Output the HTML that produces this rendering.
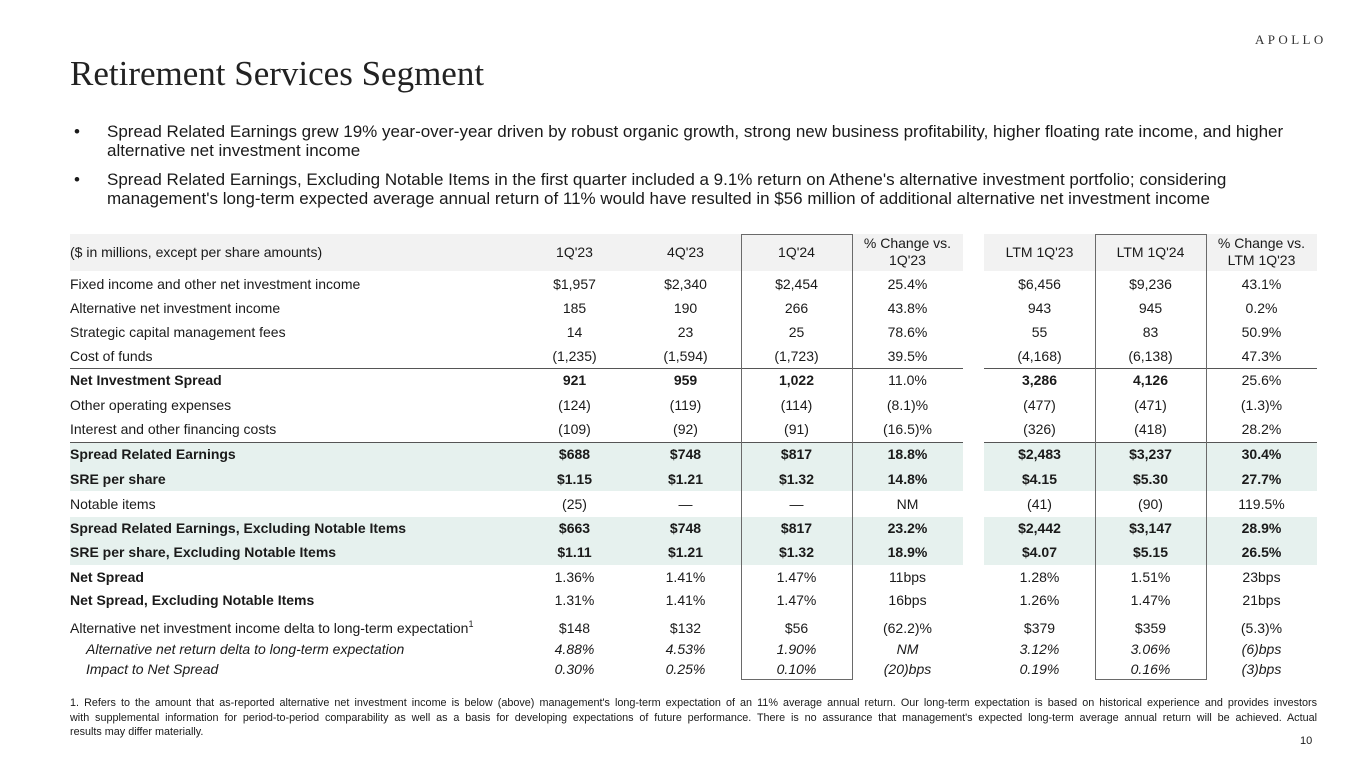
<!DOCTYPE html>
<html><head><meta charset="utf-8">
<style>
*{margin:0;padding:0;box-sizing:border-box}
body{width:1365px;height:768px;background:#fff;position:relative;overflow:hidden;font-family:"Liberation Sans",Arial,sans-serif;color:#1a1a1a}
.abs{position:absolute}
.title{position:absolute;left:70px;top:56px;font-family:"Liberation Serif",serif;font-size:35px;line-height:35px;color:#222;white-space:nowrap}
.logo{position:absolute;left:1255px;top:32px;font-family:"Liberation Serif",serif;font-size:13px;letter-spacing:3.4px;color:#333;line-height:16px}
.bul{position:absolute;left:0;font-size:17px;line-height:19px;white-space:nowrap}
.bul .d{position:absolute;left:74px}
.bul .t{position:absolute;left:107px}
.bg{position:absolute;background:#f2f2f2}
.gr{position:absolute;background:#e6f1ee}
.rule{position:absolute;height:1px;background:#555}
.box{position:absolute;border:1px solid #6a6a6a;top:234px;height:446px;width:112px}
.r{position:absolute;left:0;width:1365px;height:24px;line-height:24px;font-size:14px;white-space:nowrap}
.r span{position:absolute;top:0;width:111px;text-align:center}
.r .l{left:70px;width:450px;text-align:left}
.r .li{left:86px;width:450px;text-align:left;font-style:italic}
.a{left:519px}.b{left:630px}.c{left:741px}.d{left:852px}.e{left:984px}.f{left:1095px}.g{left:1206px}
.bo{font-weight:bold}
.it span{font-style:italic}
.h2{position:absolute;width:111px;text-align:center;font-size:14px;line-height:17px;top:235px}
sup{font-size:9px;line-height:0;vertical-align:6px}
.fn{position:absolute;left:70px;width:1247px;font-size:10.8px;line-height:14.5px;white-space:nowrap}
.fn.j{text-align:justify;text-align-last:justify;white-space:normal}
</style></head><body>

<div class="logo">APOLLO</div>
<div class="title">Retirement Services Segment</div>

<div class="bul" style="top:122px"><span class="d">•</span><span class="t">Spread Related Earnings grew 19% year-over-year driven by robust organic growth, strong new business profitability, higher floating rate income, and higher</span></div>
<div class="bul" style="top:141px"><span class="t">alternative net investment income</span></div>
<div class="bul" style="top:170px"><span class="d">•</span><span class="t">Spread Related Earnings, Excluding Notable Items in the first quarter included a 9.1% return on Athene's alternative investment portfolio; considering</span></div>
<div class="bul" style="top:189px"><span class="t">management's long-term expected average annual return of 11% would have resulted in $56 million of additional alternative net investment income</span></div>

<!-- backgrounds -->
<div class="bg" style="left:70px;top:234px;width:893px;height:37px"></div>
<div class="bg" style="left:984px;top:234px;width:333px;height:37px"></div>
<div class="gr" style="left:70px;top:442px;width:893px;height:49px"></div>
<div class="gr" style="left:984px;top:442px;width:333px;height:49px"></div>
<div class="gr" style="left:70px;top:517px;width:893px;height:48px"></div>
<div class="gr" style="left:984px;top:517px;width:333px;height:48px"></div>
<div class="rule" style="left:70px;top:368px;width:893px"></div>
<div class="rule" style="left:984px;top:368px;width:333px"></div>
<div class="rule" style="left:70px;top:442px;width:893px"></div>
<div class="rule" style="left:984px;top:442px;width:333px"></div>
<div class="box" style="left:741px"></div>
<div class="box" style="left:1095px"></div>

<!-- header -->
<div class="r" style="top:240px"><span class="l">($ in millions, except per share amounts)</span><span class="a">1Q'23</span><span class="b">4Q'23</span><span class="c">1Q'24</span><span class="e">LTM 1Q'23</span><span class="f">LTM 1Q'24</span></div>
<div class="h2" style="left:852px">% Change vs.<br>1Q'23</div>
<div class="h2" style="left:1206px">% Change vs.<br>LTM 1Q'23</div>

<div class="r" style="top:272px"><span class="l">Fixed income and other net investment income</span><span class="a">$1,957</span><span class="b">$2,340</span><span class="c">$2,454</span><span class="d">25.4%</span><span class="e">$6,456</span><span class="f">$9,236</span><span class="g">43.1%</span></div>
<div class="r" style="top:296px"><span class="l">Alternative net investment income</span><span class="a">185</span><span class="b">190</span><span class="c">266</span><span class="d">43.8%</span><span class="e">943</span><span class="f">945</span><span class="g">0.2%</span></div>
<div class="r" style="top:320px"><span class="l">Strategic capital management fees</span><span class="a">14</span><span class="b">23</span><span class="c">25</span><span class="d">78.6%</span><span class="e">55</span><span class="f">83</span><span class="g">50.9%</span></div>
<div class="r" style="top:344px"><span class="l">Cost of funds</span><span class="a">(1,235)</span><span class="b">(1,594)</span><span class="c">(1,723)</span><span class="d">39.5%</span><span class="e">(4,168)</span><span class="f">(6,138)</span><span class="g">47.3%</span></div>
<div class="r" style="top:368px"><span class="l bo">Net Investment Spread</span><span class="a bo">921</span><span class="b bo">959</span><span class="c bo">1,022</span><span class="d">11.0%</span><span class="e bo">3,286</span><span class="f bo">4,126</span><span class="g">25.6%</span></div>
<div class="r" style="top:393px"><span class="l">Other operating expenses</span><span class="a">(124)</span><span class="b">(119)</span><span class="c">(114)</span><span class="d">(8.1)%</span><span class="e">(477)</span><span class="f">(471)</span><span class="g">(1.3)%</span></div>
<div class="r" style="top:417px"><span class="l">Interest and other financing costs</span><span class="a">(109)</span><span class="b">(92)</span><span class="c">(91)</span><span class="d">(16.5)%</span><span class="e">(326)</span><span class="f">(418)</span><span class="g">28.2%</span></div>
<div class="r bo" style="top:442px"><span class="l">Spread Related Earnings</span><span class="a">$688</span><span class="b">$748</span><span class="c">$817</span><span class="d">18.8%</span><span class="e">$2,483</span><span class="f">$3,237</span><span class="g">30.4%</span></div>
<div class="r bo" style="top:467px"><span class="l">SRE per share</span><span class="a">$1.15</span><span class="b">$1.21</span><span class="c">$1.32</span><span class="d">14.8%</span><span class="e">$4.15</span><span class="f">$5.30</span><span class="g">27.7%</span></div>
<div class="r" style="top:492px"><span class="l">Notable items</span><span class="a">(25)</span><span class="b">—</span><span class="c">—</span><span class="d">NM</span><span class="e">(41)</span><span class="f">(90)</span><span class="g">119.5%</span></div>
<div class="r bo" style="top:516px"><span class="l">Spread Related Earnings, Excluding Notable Items</span><span class="a">$663</span><span class="b">$748</span><span class="c">$817</span><span class="d">23.2%</span><span class="e">$2,442</span><span class="f">$3,147</span><span class="g">28.9%</span></div>
<div class="r bo" style="top:540px"><span class="l">SRE per share, Excluding Notable Items</span><span class="a">$1.11</span><span class="b">$1.21</span><span class="c">$1.32</span><span class="d">18.9%</span><span class="e">$4.07</span><span class="f">$5.15</span><span class="g">26.5%</span></div>
<div class="r" style="top:565px"><span class="l bo">Net Spread</span><span class="a">1.36%</span><span class="b">1.41%</span><span class="c">1.47%</span><span class="d">11bps</span><span class="e">1.28%</span><span class="f">1.51%</span><span class="g">23bps</span></div>
<div class="r" style="top:588px"><span class="l bo">Net Spread, Excluding Notable Items</span><span class="a">1.31%</span><span class="b">1.41%</span><span class="c">1.47%</span><span class="d">16bps</span><span class="e">1.26%</span><span class="f">1.47%</span><span class="g">21bps</span></div>
<div class="r" style="top:616px"><span class="l">Alternative net investment income delta to long-term expectation<sup>1</sup></span><span class="a">$148</span><span class="b">$132</span><span class="c">$56</span><span class="d">(62.2)%</span><span class="e">$379</span><span class="f">$359</span><span class="g">(5.3)%</span></div>
<div class="r it" style="top:637px"><span class="li">Alternative net return delta to long-term expectation</span><span class="a">4.88%</span><span class="b">4.53%</span><span class="c">1.90%</span><span class="d">NM</span><span class="e">3.12%</span><span class="f">3.06%</span><span class="g">(6)bps</span></div>
<div class="r it" style="top:657px"><span class="li">Impact to Net Spread</span><span class="a">0.30%</span><span class="b">0.25%</span><span class="c">0.10%</span><span class="d">(20)bps</span><span class="e">0.19%</span><span class="f">0.16%</span><span class="g">(3)bps</span></div>

<div class="fn j" style="top:696px">1. Refers to the amount that as-reported alternative net investment income is below (above) management's long-term expectation of an 11% average annual return. Our long-term expectation is based on historical experience and provides investors</div>
<div class="fn j" style="top:710.5px">with supplemental information for period-to-period comparability as well as a basis for developing expectations of future performance. There is no assurance that management's expected long-term average annual return will be achieved. Actual</div>
<div class="fn" style="top:725px">results may differ materially.</div>
<div class="abs" style="left:1300px;top:734px;font-size:11px;line-height:14px">10</div>

</body></html>
